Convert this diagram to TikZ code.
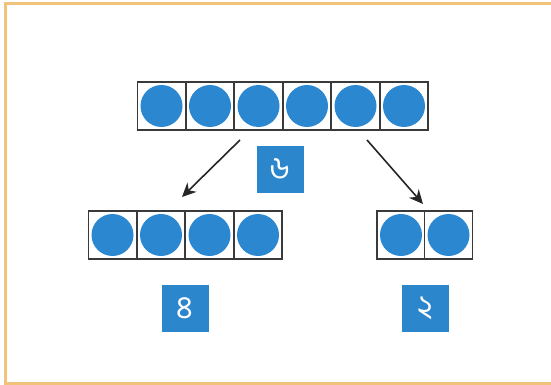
\documentclass[tikz,border=0pt]{standalone}
\usepackage{fontspec}
\newfontfamily\bengfont[Script=Bengali]{Hind Siliguri}
\definecolor{dotblue}{HTML}{2A87D0}
\definecolor{labblue}{HTML}{2C86CC}
\definecolor{frameorange}{HTML}{F0C27A}
\definecolor{cellline}{HTML}{3A3A3A}
\usetikzlibrary{arrows.meta}
\tikzset{
  cell/.style={draw=cellline, line width=1.6pt, minimum width=48pt, minimum height=48pt, inner sep=0pt, fill=white},
  dot/.style={circle, fill=dotblue, minimum size=42pt, inner sep=0pt},
  numlab/.style={fill=labblue, minimum width=47pt, minimum height=47pt, inner sep=0pt, text=white, font=\bengfont\fontsize{32}{34}\selectfont},
  conn/.style={draw=black!85, line width=1.6pt, -{Stealth[length=14pt,width=13pt]}}
}
\begin{document}
\begin{tikzpicture}[x=1pt,y=-1pt]
\useasboundingbox (0,0) rectangle (551,385);
\fill[white] (0,0) rectangle (551,385);
\draw[frameorange, line width=2.2pt] (560,3.5) -- (5.5,3.5) -- (5.5,383.5) -- (560,383.5);
% top row
\foreach \i in {0,...,5} {
  \node[cell] (t\i) at (161.5+48.5*\i,106) {};
  \node[dot] (td\i) at (t\i) {};
}
% bottom left row
\foreach \i in {0,...,3} {
  \node[cell] (l\i) at (112.5+48.5*\i,235) {};
  \node[dot] (ld\i) at (l\i) {};
}
% bottom right row
\foreach \i in {0,1} {
  \node[cell] (r\i) at (401+47.5*\i,235) {};
  \node[dot] (rd\i) at (r\i) {};
}
\node[numlab] (n6) at (280,169) {৬};
\node[numlab] (n4) at (185,308) {৪};
\node[numlab] (n2) at (425,308) {২};
\coordinate (a1s) at (240,140);
\coordinate (a1e) at (182,197);
\coordinate (a2s) at (367,140);
\coordinate (a2e) at (423,204);
\draw[conn] (a1s) -- (a1e);
\draw[conn] (a2s) -- (a2e);
\end{tikzpicture}
\end{document}
